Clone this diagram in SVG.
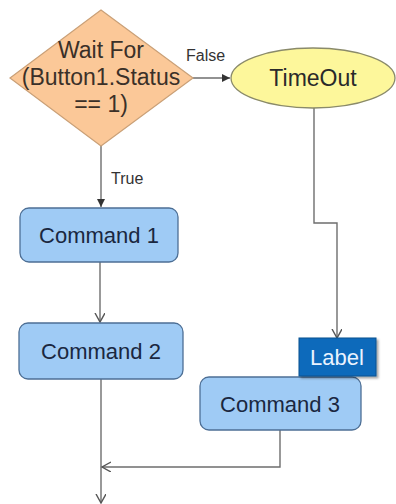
<svg xmlns="http://www.w3.org/2000/svg" width="396" height="504" viewBox="0 0 396 504">
  <style>
    .bg { fill: #ffffff; }
    .conn { fill: none; stroke: #6e6e6e; stroke-width: 1.4; }
    .cmd rect { fill: #9fcbf5; stroke: #4d6f95; stroke-width: 1.3; }
    .cmd text { font-family: "Liberation Sans", Arial, sans-serif; font-size: 22px; fill: #1a2740; text-anchor: middle; }
    .dtext { font-family: "Liberation Sans", Arial, sans-serif; font-size: 23px; fill: #3a3028; text-anchor: middle; }
    .small { font-family: "Liberation Sans", Arial, sans-serif; font-size: 16px; fill: #333333; }
  </style>
  <defs>
    <marker id="solid" markerWidth="10" markerHeight="10" refX="8" refY="4" orient="auto" markerUnits="userSpaceOnUse">
      <path d="M0,0 L8,4 L0,8 Z" fill="#333333"/>
    </marker>
    <marker id="open" markerWidth="12" markerHeight="12" refX="9" refY="5" orient="auto" markerUnits="userSpaceOnUse">
      <path d="M0,0 L9,5 L0,10" fill="none" stroke="#555555" stroke-width="1.4"/>
    </marker>
    <filter id="shadow" x="-10%" y="-10%" width="130%" height="140%">
      <feDropShadow dx="2" dy="2" stdDeviation="1.2" flood-color="#000000" flood-opacity="0.35"/>
    </filter>
  </defs>
  <rect class="bg" x="0" y="0" width="396" height="504"/>

  <g id="connectors">
    <line class="conn" x1="193" y1="78" x2="230" y2="78" marker-end="url(#solid)"/>
    <text class="small" x="186" y="61">False</text>
    <line class="conn" x1="101" y1="146" x2="101" y2="207" marker-end="url(#solid)"/>
    <text class="small" x="111" y="184">True</text>
    <line class="conn" x1="100" y1="262" x2="100" y2="322" marker-end="url(#open)"/>
    <polyline class="conn" points="314,108 314,223 337,223 337,338" marker-end="url(#open)"/>
    <line class="conn" x1="101" y1="379" x2="101" y2="503" marker-end="url(#open)"/>
    <polyline class="conn" points="280,430 280,467 102,467" marker-end="url(#open)"/>
  </g>

  <g id="wait">
    <polygon points="101,10 193,78 101,146 10,78" fill="#fbc898" stroke="#caa077" stroke-width="1.2"/>
    <text class="dtext" x="101" y="58">Wait For</text>
    <text class="dtext" x="101" y="85">(Button1.Status</text>
    <text class="dtext" x="101" y="112">== 1)</text>
  </g>

  <g id="timeout">
    <ellipse cx="313" cy="78" rx="82" ry="30" fill="#fdf79b" stroke="#8a8a6a" stroke-width="1.3"/>
    <text class="dtext" x="313" y="86" style="font-size:23px;fill:#2a2a2a">TimeOut</text>
  </g>

  <g id="command1" class="cmd">
    <rect x="20" y="208" width="158" height="54" rx="9"/>
    <text x="99" y="243">Command 1</text>
  </g>

  <g id="command2" class="cmd">
    <rect x="19" y="323" width="164" height="56" rx="9"/>
    <text x="101" y="359">Command 2</text>
  </g>

  <g id="command3" class="cmd">
    <rect x="200" y="377" width="161" height="53" rx="9"/>
    <text x="280" y="412">Command 3</text>
  </g>

  <g id="label">
    <rect x="299" y="338" width="77" height="38" fill="#0b6bbb" stroke="#07508f" stroke-width="1" filter="url(#shadow)"/>
    <text x="337" y="365" style="font-family:'Liberation Sans', Arial, sans-serif;font-size:22px;fill:#eaf3ff;text-anchor:middle">Label</text>
  </g>
</svg>
